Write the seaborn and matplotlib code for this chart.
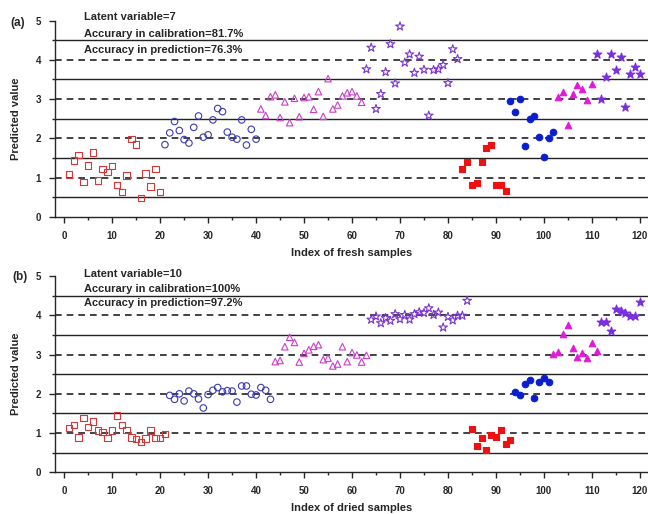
"""
plot.py
Predicted value vs sample index for fresh (a) and dried (b) samples.
"""

import numpy as np
import pandas as pd
import matplotlib
matplotlib.use("Agg")
import matplotlib.pyplot as plt
import matplotlib.ticker as mticker
import seaborn as sns

sns.set_style("ticks")
plt.rcParams["font.family"] = ["Liberation Sans", "DejaVu Sans"]
plt.rcParams["font.weight"] = "bold"

# ── data: panel (a), fresh samples ───────────────────────────────────────────
fresh_starts = [1, 21, 41, 63, 83, 93, 103, 111]
fresh_values = [
    [1.08, 1.44, 1.58, 0.89, 1.31, 1.64, 0.93, 1.22, 1.14, 1.30,
     0.81, 0.64, 1.06, 1.99, 1.84, 0.48, 1.10, 0.77, 1.22, 0.64],
    [1.84, 2.14, 2.43, 2.20, 1.97, 1.88, 2.28, 2.57, 2.03, 2.09,
     2.47, 2.76, 2.68, 2.16, 2.03, 1.98, 2.47, 1.83, 2.23, 1.98],
    [2.75, 2.58, 3.06, 3.11, 2.53, 2.93, 2.40, 3.02, 2.55, 3.04, 3.06,
     2.74, 3.19, 2.56, 3.52, 2.75, 2.85, 3.08, 3.16, 3.19, 3.08, 2.92],
    [3.76, 4.31, 2.75, 3.13, 3.69, 4.40, 3.40, 4.85, 3.93, 4.14,
     3.67, 4.08, 3.75, 2.58, 3.74, 3.76, 3.87, 3.41, 4.27, 4.02],
    [1.23, 1.39, 0.80, 0.87, 1.39, 1.76, 1.83, 0.82, 0.82, 0.66],
    [2.94, 2.67, 2.99, 1.80, 2.50, 2.58, 2.04, 1.53, 2.02, 2.16],
    [3.06, 3.17, 2.34, 3.13, 3.36, 3.26, 2.97, 3.39],
    [4.14, 3.00, 3.56, 4.14, 3.75, 4.06, 2.81, 3.65, 3.81, 3.65],
]

# ── data: panel (b), dried samples ───────────────────────────────────────────
dried_starts = [1, 22, 44, 64, 85, 94, 102, 112]
dried_values = [
    [1.13, 1.20, 0.89, 1.38, 1.16, 1.30, 1.07, 1.03, 0.88, 1.07, 1.45,
     1.20, 1.08, 0.89, 0.85, 0.77, 0.86, 1.07, 0.88, 0.88, 0.98],
    [1.96, 1.86, 2.00, 1.82, 2.07, 2.00, 1.87, 1.64, 1.98, 2.09, 2.16,
     2.05, 2.08, 2.07, 1.79, 2.20, 2.20, 1.99, 1.97, 2.16, 2.09, 1.86],
    [2.82, 2.85, 3.20, 3.44, 3.31, 2.81, 3.03, 3.12, 3.21, 3.25,
     2.87, 2.91, 2.71, 2.76, 3.20, 2.82, 3.05, 2.99, 2.81, 2.98],
    [3.89, 3.97, 3.80, 3.93, 3.86, 4.03, 3.90, 4.01, 3.89, 4.03, 4.08,
     4.06, 4.18, 4.01, 4.07, 3.69, 3.96, 3.87, 3.99, 3.99, 4.37],
    [1.11, 0.68, 0.88, 0.56, 0.95, 0.91, 1.09, 0.71, 0.82],
    [2.04, 1.96, 2.24, 2.36, 1.90, 2.30, 2.40, 2.30],
    [3.01, 3.06, 3.52, 3.76, 3.16, 2.95, 3.03, 2.90, 3.29, 3.10],
    [3.84, 3.82, 3.61, 4.16, 4.12, 4.07, 3.98, 3.98, 4.34],
]

fresh_text = ["Latent variable=7", "Accurary in calibration=81.7%",
              "Accuracy in prediction=76.3%"]
dried_text = ["Latent variable=10", "Accurary in calibration=100%",
              "Accuracy in prediction=97.2%"]

# group styles: (marker, colour, filled)
STYLES = [
    ("s", "#d03a3a", False),
    ("o", "#3b3bb0", False),
    ("^", "#cc3ccc", False),
    ("*", "#7a35cc", False),
    ("s", "#ee1111", True),
    ("o", "#0a1ed0", True),
    ("^", "#e01ad8", True),
    ("*", "#7b2ee0", True),
]


def make_frame(starts, values):
    rows = []
    for g, (st, vals) in enumerate(zip(starts, values)):
        for i, v in enumerate(vals):
            rows.append({"index": st + i, "value": v, "group": g})
    return pd.DataFrame(rows)


def draw_panel(ax, df, texts, text_y, xlabel):
    for y in [0.5, 1.5, 2.5, 3.5, 4.5]:
        ax.axhline(y, color="#222222", linewidth=1.0, zorder=1)
    for y in [1, 2, 3, 4]:
        ax.axhline(y, color="#222222", linewidth=1.2, linestyle=(0, (4, 3)), zorder=1)

    for g, (mk, col, filled) in enumerate(STYLES):
        sub = df[df["group"] == g]
        size = 42 if mk == "*" else 22
        sns.scatterplot(data=sub, x="index", y="value", ax=ax, marker=mk, s=size,
                        facecolors=col if filled else "none", edgecolor=col,
                        linewidth=0.8, zorder=3, legend=False)

    for t, ty in zip(texts, text_y):
        ax.text(4.2, ty, t, fontsize=8, fontweight="bold", va="center",
                ha="left", clip_on=False)

    ax.set_xlim(-1.9, 121.7)
    ax.set_ylim(0, 5)
    ax.xaxis.set_major_locator(mticker.MultipleLocator(10))
    ax.xaxis.set_minor_locator(mticker.MultipleLocator(5))
    ax.yaxis.set_major_locator(mticker.MultipleLocator(1))
    ax.yaxis.set_minor_locator(mticker.MultipleLocator(0.5))
    ax.tick_params(which="major", length=4, width=1, labelsize=7, pad=6)
    ax.tick_params(which="minor", length=2.5, width=1)
    for lab in ax.get_xticklabels() + ax.get_yticklabels():
        lab.set_fontweight("bold")
    ax.set_xlabel(xlabel, fontsize=8, fontweight="bold", labelpad=5)
    ax.set_ylabel("Predicted value", fontsize=8, fontweight="bold")
    ax.yaxis.set_label_coords(-0.058, 0.5)
    ax.spines[["top", "right"]].set_visible(False)
    ax.spines[["left", "bottom"]].set_linewidth(1.0)
    ax.set_facecolor("white")


fig = plt.figure(figsize=(6.48, 5.14), dpi=100)
ax_a = fig.add_axes([0.085, 0.578, 0.915, 0.382])
ax_b = fig.add_axes([0.085, 0.081, 0.915, 0.382])

draw_panel(ax_a, make_frame(fresh_starts, fresh_values), fresh_text,
           [5.09, 4.67, 4.25], "Index of fresh samples")
draw_panel(ax_b, make_frame(dried_starts, dried_values), dried_text,
           [5.06, 4.68, 4.32], "Index of dried samples")

fig.text(18 / 648, 1 - 22.7 / 514, "(a)", fontsize=8.5, fontweight="bold",
         ha="center", va="center")
fig.text(20 / 648, 1 - 276.7 / 514, "(b)", fontsize=8.5, fontweight="bold",
         ha="center", va="center")

fig.savefig("out.png", dpi=100, facecolor="white")
plt.close(fig)
